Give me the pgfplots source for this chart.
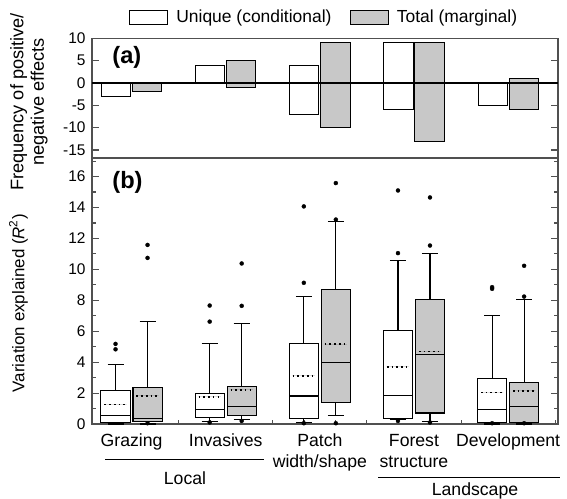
\documentclass[border=0pt]{standalone}
\usepackage{fontspec}
\setmainfont{Liberation Sans}
\usepackage{pgfplots}
\pgfplotsset{compat=1.18}
\usepgfplotslibrary{statistics}

\definecolor{boxgray}{RGB}{200,200,200}
\definecolor{framegray}{RGB}{80,80,80}

\pgfplotsset{
  panel/.style={
    scale only axis, width=256.3pt,
    xmin=0.58, xmax=5.53,
    axis line style={framegray, line width=0.7pt},
    tick align=inside, ytick pos=both,
    major tick length=4pt, minor tick length=2pt,
    every tick/.style={framegray, line width=0.6pt},
    minor xtick={0.8333,1.1667,...,5.5},
    /pgf/number format/assume math mode=true,
    yticklabel style={font=\fontsize{8.5}{10}\selectfont},
  },
  boxplot/draw direction=y,
  boxplot/box extend=0.31,
  boxplot/whisker extend=0.17,
  boxplot/every median/.style={line width=0.6pt},
  boxplot/draw/average/.code={%
    \draw[black, line width=0.9pt, dash pattern=on 0.9pt off 1.7pt]
      (boxplot box cs:\pgfplotsboxplotvalue{average},0.12) --
      (boxplot box cs:\pgfplotsboxplotvalue{average},0.88);
  },
  ubox/.style={draw=black, fill=white, line width=0.6pt, solid,
    mark=*, mark size=1.1pt, mark options={fill=black, draw=black, line width=0.2pt}},
  tbox/.style={ubox, fill=boxgray},
  ubar/.style={ybar, bar width=0.31, bar shift=-0.165, draw=black, fill=white, line width=0.5pt,
    legend image code/.code={\draw[##1] (0pt,-3.8pt) rectangle (20.9pt,3.8pt);}},
  tbar/.style={ubar, bar shift=0.165, fill=boxgray},
}

\begin{document}
\begin{tikzpicture}
\useasboundingbox (0pt,0pt) rectangle (311.85pt,273.9pt);

% (a) frequency of positive / negative effects
\begin{axis}[panel, at={(50.6pt,186.84pt)}, anchor=south west, height=66pt,
  ymin=-16.85, ymax=10, ytick={-15,-10,...,10},
  xtick=\empty, xtick pos=bottom,
  legend style={at={(0.5,1)}, anchor=center, yshift=11.5pt, draw=none, fill=none,
    legend columns=2, font=\fontsize{9.6}{11}\selectfont,
    /tikz/every odd column/.append style={column sep=2.5pt},
    /tikz/every even column/.append style={column sep=8pt}},
]
\addplot[ubar] coordinates {(2,4) (3,4) (4,9)};
\addlegendentry{Unique (conditional)}
\addplot[ubar, forget plot] coordinates {(1,-3) (3,-7) (4,-6) (5,-5)};
\addplot[tbar] coordinates {(2,5) (3,9) (4,9) (5,1)};
\addlegendentry{Total (marginal)}
\addplot[tbar, forget plot] coordinates {(1,-2) (2,-1) (3,-10) (4,-13) (5,-6)};
\addplot[black, line width=1.1pt, forget plot] coordinates {(0.58,0) (5.53,0)};
\node[font=\bfseries\fontsize{13}{15}\selectfont, anchor=west] at (rel axis cs:0.03,0.84) {(a)};
\end{axis}

% (b) variation explained
\begin{axis}[panel, at={(50.6pt,40.7pt)}, anchor=south west, height=146.3pt,
  ymin=0, ymax=17.2, ytick={0,2,...,16}, minor ytick={1,3,...,17},
  xtick={1,2,3,4,5},
  xticklabels={Grazing, Invasives, {Patch\\width/shape}, {Forest\\structure}, Development},
  xticklabel style={align=center, font=\fontsize{9.7}{11.5}\selectfont, yshift=-2pt},
  major x tick style={draw=none}, xtick pos=bottom,
  clip=false,
]
% Grazing
\addplot[ubox, boxplot prepared={draw position=0.83, lower whisker=0, lower quartile=0.1,
  median=0.54, upper quartile=2.18, upper whisker=3.82, average=1.27}]
  coordinates {(0.83,5.18) (0.83,4.83)};
\addplot[tbox, boxplot prepared={draw position=1.17, lower whisker=0, lower quartile=0.15,
  median=0.37, upper quartile=2.37, upper whisker=6.62, average=1.83}]
  coordinates {(1.17,11.58) (1.17,10.74) (1.17,0.05)};
% Invasives
\addplot[ubox, boxplot prepared={draw position=1.83, lower whisker=0.15, lower quartile=0.41,
  median=0.95, upper quartile=2.0, upper whisker=5.18, average=1.75}]
  coordinates {(1.83,7.66) (1.83,6.62) (1.83,0.1)};
\addplot[tbox, boxplot prepared={draw position=2.17, lower whisker=0.3, lower quartile=0.56,
  median=1.16, upper quartile=2.42, upper whisker=6.47, average=2.2}]
  coordinates {(2.17,10.38) (2.17,7.64) (2.17,0.2)};
% Patch width/shape
\addplot[ubox, boxplot prepared={draw position=2.83, lower whisker=0.1, lower quartile=0.37,
  median=1.81, upper quartile=5.18, upper whisker=8.24, average=3.11}]
  coordinates {(2.83,14.07) (2.83,9.13) (2.83,0.05)};
\addplot[tbox, boxplot prepared={draw position=3.17, lower whisker=0.54, lower quartile=1.4,
  median=3.95, upper quartile=8.72, upper whisker=13.07, average=5.16}]
  coordinates {(3.17,15.58) (3.17,13.22) (3.17,0.05)};
% Forest structure
\addplot[ubox, boxplot prepared={draw position=3.83, lower whisker=0.28, lower quartile=0.37,
  median=1.86, upper quartile=6.04, upper whisker=10.57, average=3.69}]
  coordinates {(3.83,15.1) (3.83,11.05) (3.83,0.2)};
\addplot[tbox, boxplot prepared={draw position=4.17, lower whisker=0.17, lower quartile=0.71,
  median=4.47, upper quartile=8.05, upper whisker=11.0, average=4.7}]
  coordinates {(4.17,14.65) (4.17,11.54) (4.17,0.1)};
% Development
\addplot[ubox, boxplot prepared={draw position=4.83, lower whisker=0, lower quartile=0.1,
  median=0.95, upper quartile=2.93, upper whisker=7.01, average=2.03}]
  coordinates {(4.83,8.85) (4.83,8.74) (4.83,0.05)};
\addplot[tbox, boxplot prepared={draw position=5.17, lower whisker=0, lower quartile=0.1,
  median=1.15, upper quartile=2.7, upper whisker=8.07, average=2.14}]
  coordinates {(5.17,10.23) (5.17,8.24) (5.17,0.05)};
\node[font=\bfseries\fontsize{13}{15}\selectfont, anchor=west] at (rel axis cs:0.03,0.91) {(b)};
\end{axis}

% axis titles and group labels
\node[rotate=90, align=center, font=\fontsize{10}{11.3}\selectfont] at (15.95pt,217.8pt)
  {Frequency of positive/\\negative effects};
\node[rotate=90, font=\fontsize{9.3}{11}\selectfont] at (10.18pt,107.25pt)
  {Variation explained (\textit{R}\textsuperscript{2})};
\draw[black, line width=0.5pt] (57.75pt,21.45pt) -- (145.2pt,21.45pt);
\node[font=\fontsize{9.7}{11.5}\selectfont, anchor=base] at (101.75pt,7.7pt) {Local};
\draw[black, line width=0.5pt] (207.9pt,11.55pt) -- (308pt,11.55pt);
\node[font=\fontsize{9.7}{11.5}\selectfont, anchor=base] at (261.25pt,1.6pt) {Landscape};
\end{tikzpicture}
\end{document}
